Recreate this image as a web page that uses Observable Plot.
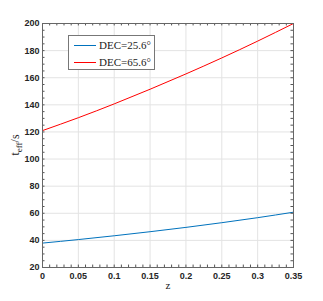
<!DOCTYPE html>
<html><head><meta charset="utf-8">
<script src="https://cdn.jsdelivr.net/npm/d3@7"></script>
<script src="https://cdn.jsdelivr.net/npm/@observablehq/plot@0.6"></script>
<style>
body{margin:0;background:#fff;}
#wrap{position:relative;width:323px;height:301px;}
#ylab{position:absolute;left:15px;top:145px;transform:translate(-50%,-50%) rotate(-90deg);font-family:"Liberation Serif","Times New Roman",serif;font-size:12px;color:#222;white-space:nowrap;}
#ylab sub{font-size:9px;vertical-align:-3px;line-height:0;}
#legend{position:absolute;left:68px;top:35px;width:87px;height:35px;border:1px solid #777;background:#fff;box-sizing:border-box;font-family:"Liberation Serif","Times New Roman",serif;font-size:11px;color:#222;}
.row{position:absolute;left:5px;height:12px;display:flex;align-items:center;}
.row span.ln{display:inline-block;width:22px;height:1px;margin-right:3px;}
</style></head>
<body><div id="wrap"><div id="ylab">t<sub>eff</sub>/s</div>
<div id="legend"><div class="row" style="top:3px"><span class="ln" style="background:#0072BD"></span>DEC=25.6°</div><div class="row" style="top:20px"><span class="ln" style="background:#FF0000"></span>DEC=65.6°</div></div>
</div>
<script>
const z = [0, 0.05, 0.1, 0.15, 0.2, 0.25, 0.3, 0.35];
const dec25 = [38, 40.6, 43.4, 46.4, 49.6, 53.05, 56.75, 60.8];
const dec65 = [121, 130.5, 140.7, 151.5, 162.8, 174.6, 187, 200];
const xTicks = [0, 0.05, 0.1, 0.15, 0.2, 0.25, 0.3, 0.35];
const yTicks = [20, 40, 60, 80, 100, 120, 140, 160, 180, 200];

const data = [
  ...z.map((v, i) => ({z: v, t: dec25[i], s: "DEC=25.6°"})),
  ...z.map((v, i) => ({z: v, t: dec65[i], s: "DEC=65.6°"}))
];
const xMinor = d3.range(0, 36).map(i => i / 100);
const yMinor = d3.range(20, 201, 5);
const tx = 0.0035, ty = 1.8;

const chart = Plot.plot({
  width: 323, height: 301,
  marginLeft: 42, marginRight: 30, marginTop: 23, marginBottom: 34,
  x: {domain: [0, 0.35]},
  y: {domain: [20, 200]},
  color: {domain: ["DEC=25.6°", "DEC=65.6°"], range: ["#0072BD", "#FF0000"]},
  style: {fontFamily: "'Liberation Sans', Arial, sans-serif", fontSize: "9px", color: "#262626", background: "#fff"},
  marks: [
    Plot.gridX(xTicks, {stroke: "#e3e3e3", strokeOpacity: 1}),
    Plot.gridY(yTicks, {stroke: "#e3e3e3", strokeOpacity: 1}),
    Plot.axisX(xTicks, {tickSize: 0, tickPadding: 5, tickFormat: d => String(d), label: null, fontWeight: "bold"}),
    Plot.axisY(yTicks, {tickSize: 0, tickPadding: 3, label: null, fontWeight: "bold"}),
    Plot.line(data, {x: "z", y: "t", stroke: "s", z: "s", strokeWidth: 1, curve: "natural"}),
    Plot.ruleX(xMinor, {x: d => d, y1: 20, y2: 20 + ty, stroke: "#555"}),
    Plot.ruleX(xMinor, {x: d => d, y1: 200, y2: 200 - ty, stroke: "#555"}),
    Plot.ruleY(yMinor, {y: d => d, x1: 0, x2: tx, stroke: "#555"}),
    Plot.ruleY(yMinor, {y: d => d, x1: 0.35, x2: 0.35 - tx, stroke: "#555"}),
    Plot.frame({stroke: "#666"}),
    Plot.text(["z"], {frameAnchor: "bottom", dy: 21, fontFamily: "'Liberation Serif', serif", fontSize: 11, fill: "#222"})
  ]
});
document.getElementById("wrap").prepend(chart);
</script>
</body></html>
